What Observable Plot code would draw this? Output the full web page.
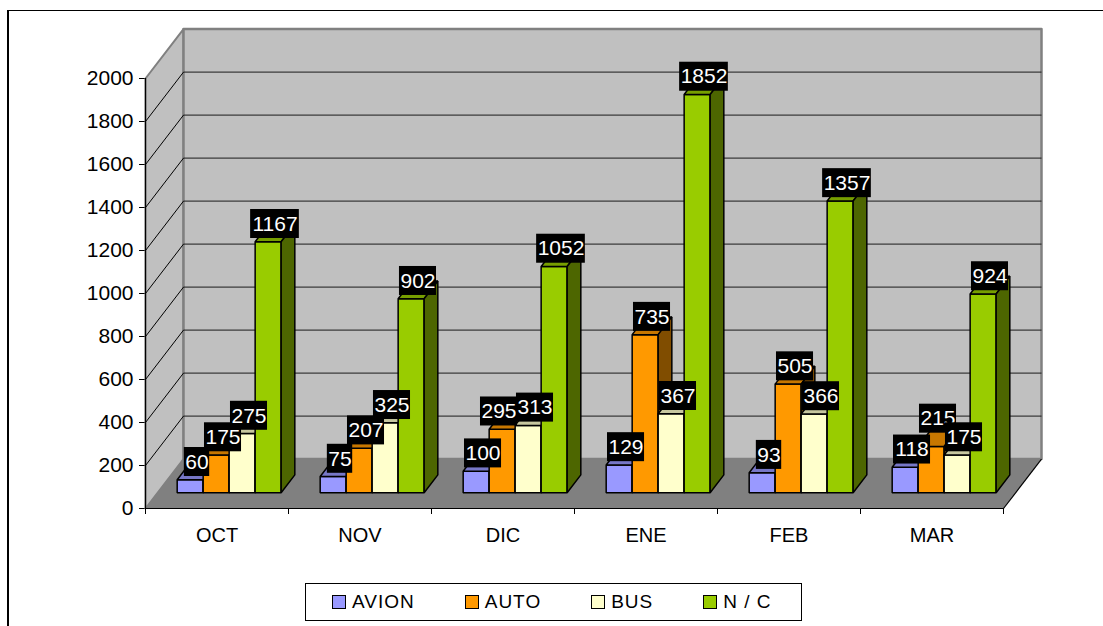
<!DOCTYPE html>
<html>
<head>
<meta charset="utf-8">
<script src="https://cdn.jsdelivr.net/npm/d3@7"></script>
<script src="https://cdn.jsdelivr.net/npm/@observablehq/plot@0.6"></script>
<style>
  body { margin: 0; background: #fff; font-family: "Liberation Sans", Arial, sans-serif; }
  #wrap { position: relative; width: 1103px; height: 626px; overflow: hidden; background: #fff; }
  #frame { position: absolute; left: 7px; top: 10px; width: 1200px; height: 800px; border-top: 1px solid #000; border-left: 2px solid #000; }
  #chart { position: absolute; left: 0; top: 0; }
  #chart [aria-label="x-axis tick label"] { font-size: 20px; }
  #legend { position: absolute; left: 305px; top: 583px; width: 497px; height: 38px; border: 1px solid #000; box-sizing: border-box;
            display: flex; align-items: center; padding-left: 26px; gap: 50px; font-size: 19px; letter-spacing: 1px; }
  .item { display: flex; align-items: center; }
  .sw { width: 12px; height: 12px; border: 1px solid #000; margin-right: 6px; }
</style>
</head>
<body>
<div id="wrap">
  <div id="frame"></div>
  <div id="chart"></div>
  <div id="legend"></div>
</div>
<script>
// ---- data ----
const months = ["OCT", "NOV", "DIC", "ENE", "FEB", "MAR"];
const series = ["AVION", "AUTO", "BUS", "N / C"];
const avion = [60, 75, 100, 129, 93, 118];
const auto  = [175, 207, 295, 735, 505, 215];
const bus   = [275, 325, 313, 367, 366, 175];
const nc    = [1167, 902, 1052, 1852, 1357, 924];
const yTicks = [0, 200, 400, 600, 800, 1000, 1200, 1400, 1600, 1800, 2000];
const colors = ["#9999FF", "#FF9900", "#FFFFCC", "#99CC00"];

// ---- layout ----
const W = 1103, H = 560, ML = 145, MR = 100, MT = 78, MB = 52;
const yMax = 2000;
const kx = (W - ML - MR) / months.length;   // px per x unit
const ky = (H - MT - MB) / yMax;            // px per y unit
const Dx = 38 / kx, Dy = 49.4 / ky;         // full floor depth in data units
const f0 = 0.32, fd = 0.36;                 // bar depth start / thickness (fraction of depth)
const gm = 0.1365;                          // group margin
const bw = (1 - 2 * gm) / series.length;    // bar width
const values = [avion, auto, bus, nc];
// label collision nudges (pixels), as the original chart moved two labels
const labelNudge = {"AUTO|DIC": [-10, 0], "AUTO|MAR": [0, -10]};

function shade(c, k) { const r = d3.rgb(c); return d3.rgb(r.r * k, r.g * k, r.b * k).formatHex(); }

const faces = [];
const labels = [];
function poly(id, j, fill, pts) { pts.forEach(([x, y]) => faces.push({id, j, fill, x, y})); }

series.forEach((s, j) => {
  months.forEach((m, i) => {
    const v = values[j][i];
    const x0 = i + gm + j * bw + f0 * Dx;
    const b = f0 * Dy, t = v + f0 * Dy, dX = fd * Dx, dY = fd * Dy;
    const id = j + "-" + i;
    poly(id + "f", j, colors[j], [[x0, b], [x0 + bw, b], [x0 + bw, t], [x0, t]]);
    poly(id + "t", j, shade(colors[j], 0.78), [[x0, t], [x0 + bw, t], [x0 + bw + dX, t + dY], [x0 + dX, t + dY]]);
    poly(id + "s", j, shade(colors[j], 0.5), [[x0 + bw, b], [x0 + bw + dX, b + dY], [x0 + bw + dX, t + dY], [x0 + bw, t]]);
    const [nx, ny] = labelNudge[s + "|" + m] || [0, 0];
    labels.push({j, x: x0 + bw / 2 + dX / 2 + nx / kx, y: t + dY - ny / ky, text: String(v)});
  });
});

const nX = months.length;
const leftWall = [[0, 0], [0, yMax], [Dx, yMax + Dy], [Dx, Dy]].map(([x, y]) => ({x, y}));
const backWall = [[Dx, Dy], [nX + Dx, Dy], [nX + Dx, yMax + Dy], [Dx, yMax + Dy]].map(([x, y]) => ({x, y}));
const floor = [[0, 0], [nX, 0], [nX + Dx, Dy], [Dx, Dy]].map(([x, y]) => ({x, y}));
const inner = yTicks.filter(v => v > 0 && v < yMax);

const halfW = d => (d.text.length * 11.68 + 2) / 2 / kx;
const halfH = 14.5 / ky;

const marks = [
  Plot.line(leftWall, {x: "x", y: "y", fill: "#C0C0C0", stroke: "#808080", strokeWidth: 2, curve: "linear-closed"}),
  Plot.line(backWall, {x: "x", y: "y", fill: "#C0C0C0", stroke: "#808080", strokeWidth: 2.5, curve: "linear-closed"}),
  Plot.link(inner, {x1: Dx, x2: nX + Dx, y1: d => d + Dy, y2: d => d + Dy, stroke: "#1a1a1a", strokeWidth: 1}),
  Plot.link(inner, {x1: 0, x2: Dx, y1: d => d, y2: d => d + Dy, stroke: "#000", strokeWidth: 1}),
  Plot.line(floor, {x: "x", y: "y", fill: "#808080", stroke: "none", curve: "linear-closed"}),
  Plot.link([0], {x1: nX, y1: 0, x2: nX + Dx, y2: Dy, stroke: "#000", strokeWidth: 1.2}),
  Plot.ruleY([0], {x1: 0, x2: nX, stroke: "#000", strokeWidth: 1.2}),
  Plot.ruleX([0], {y1: 0, y2: yMax, stroke: "#000", strokeWidth: 1.2}),
  Plot.ruleX(d3.range(nX + 1), {y1: 0, y2: -6 / ky, stroke: "#000", strokeWidth: 1})
];
series.forEach((s, j) => {
  marks.push(Plot.line(faces, {filter: d => d.j === j, x: "x", y: "y", z: "id", fill: "fill", stroke: "#000", strokeWidth: 1.5, strokeLinejoin: "miter", curve: "linear-closed"}));
});
series.forEach((s, j) => {
  marks.push(Plot.rect(labels, {filter: d => d.j === j, x1: d => d.x - halfW(d), x2: d => d.x + halfW(d), y1: d => d.y - halfH, y2: d => d.y + halfH, fill: "#000"}));
  marks.push(Plot.text(labels, {filter: d => d.j === j, x: "x", y: "y", text: "text", fill: "#fff", fontSize: 21}));
});

const chart = Plot.plot({
  width: W, height: H,
  marginLeft: ML, marginRight: MR, marginTop: MT, marginBottom: MB,
  style: {fontFamily: "'Liberation Sans', Arial, sans-serif", fontSize: "21px", background: "transparent", color: "#000", overflow: "visible"},
  x: {domain: [0, nX], ticks: months.map((m, i) => i + 0.5), tickFormat: d => months[Math.floor(d)], tickSize: 0, tickPadding: 19, label: null},
  y: {domain: [0, yMax], ticks: yTicks, tickFormat: d => String(d), tickSize: 6, tickPadding: 6, label: null},
  color: {type: "identity"},
  marks
});
document.getElementById("chart").appendChild(chart);

const legend = document.getElementById("legend");
series.forEach((s, j) => {
  const it = document.createElement("div");
  it.className = "item";
  const sw = document.createElement("div");
  sw.className = "sw";
  sw.style.background = colors[j];
  const tx = document.createElement("span");
  tx.textContent = s;
  it.appendChild(sw); it.appendChild(tx);
  legend.appendChild(it);
});
</script>
</body>
</html>
